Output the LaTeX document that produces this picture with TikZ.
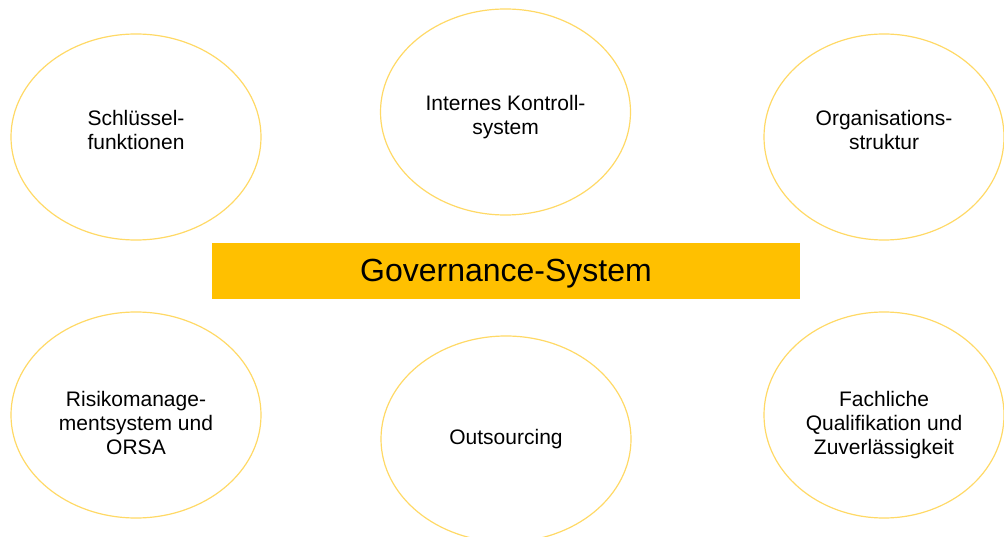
\documentclass[tikz,border=0pt]{standalone}
\usepackage{fontspec}
\setmainfont{Liberation Sans}
\usepackage{xcolor}
\usetikzlibrary{shapes.geometric}
\definecolor{govgold}{HTML}{FFC000}
\definecolor{govring}{HTML}{FFD966}

\begin{document}
\begin{tikzpicture}[x=1pt, y=-1pt,
	pillar/.style={ellipse, draw=govring, line width=1.2pt, inner sep=0pt,
		minimum width=250pt, minimum height=206pt},
	pillartext/.style={align=center, inner sep=0pt,
		font=\fontsize{21}{24}\selectfont},
	core/.style={rectangle, fill=govgold, inner sep=0pt,
		minimum width=588pt, minimum height=56pt}]
	\useasboundingbox (0,0) rectangle (1004,537);

	\node[core] (gov) at (506,271) {};
	\node[inner sep=0pt, font=\fontsize{32}{36}\selectfont] (gov-t)
		at ([yshift=-3pt]gov.center) {Governance-System};

	\node[pillar] (schl) at (136,137) {};
	\node[pillar] (iks) at (505.5,112) {};
	\node[pillar, minimum width=240pt] (org) at (884,137) {};
	\node[pillar] (risk) at (136,415) {};
	\node[pillar] (out) at (506,439) {};
	\node[pillar, minimum width=240pt] (fach) at (884,415) {};

	\node[pillartext] (schl-t) at ([yshift=7pt]schl.center) {Schlüssel-\\funktionen};
	\node[pillartext] (iks-t) at ([yshift=-5pt]iks.center) {Internes Kontroll-\\system};
	\node[pillartext] (org-t) at ([yshift=7pt]org.center) {Organisations-\\struktur};
	\node[pillartext] (risk-t) at ([yshift=-8pt]risk.center) {Risikomanage-\\mentsystem und\\ORSA};
	\node[pillartext] (out-t) at (out.center) {Outsourcing};
	\node[pillartext] (fach-t) at ([yshift=-10pt]fach.center) {Fachliche\\Qualifikation und\\Zuverlässigkeit};
\end{tikzpicture}
\end{document}
